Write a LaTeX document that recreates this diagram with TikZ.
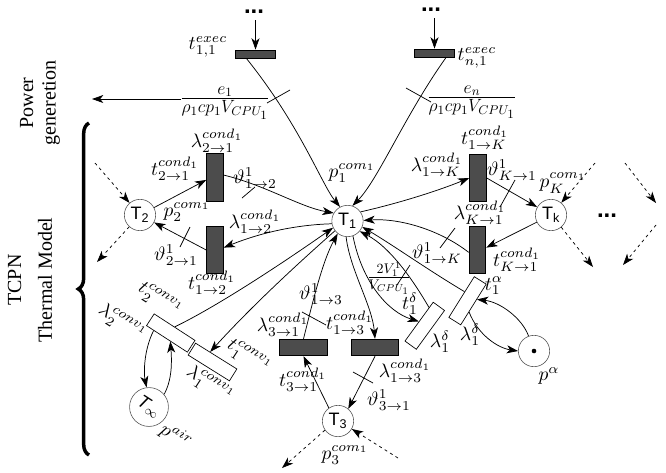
\RequirePackage{fix-cm}
\documentclass[tikz,border=0pt]{standalone}
\usepackage{fontspec}
\usepackage{graphicx}
\newfontfamily\hvfont{Liberation Sans}
\newfontfamily\tmfont{Liberation Serif}
\newcommand{\lbm}[1]{\scalebox{1.46}{$#1$}}
\usetikzlibrary{arrows.meta,decorations.pathreplacing,calc}
\begin{document}
\begin{tikzpicture}[x=0.75pt,y=-0.75pt,
  font=\fontsize{10}{12}\selectfont,
  line width=0.55pt,
  >={Stealth[length=8.5pt,width=6pt,inset=2.4pt]},
  conn/.style={->},
  dasharc/.style={->,dash pattern=on 2.2pt off 2.6pt},
  place/.style={circle,draw=black!65,line width=0.45pt,minimum size=23.5pt,inner sep=0pt,font=\hvfont\fontsize{13.5}{15}\selectfont},
  vtrans/.style={rectangle,draw=black,line width=0.6pt,fill=black!70,minimum width=12.5pt,minimum height=35.5pt,inner sep=0pt},
  htrans/.style={rectangle,draw=black,line width=0.6pt,fill=black!70,minimum width=35.5pt,minimum height=12.5pt,inner sep=0pt},
  etrans/.style={rectangle,draw=black,line width=0.6pt,fill=black!70,minimum width=30.5pt,minimum height=6pt,inner sep=0pt},
  wtrans/.style={rectangle,draw=black,line width=0.5pt,fill=white,minimum width=10.5pt,minimum height=36pt,inner sep=0pt},
  ctrans/.style={rectangle,draw=black,line width=0.5pt,fill=white,minimum width=36.5pt,minimum height=10.5pt,inner sep=0pt},
  lbl/.style={inner sep=0pt},
  dotsty/.style={inner sep=0pt,anchor=base,font=\hvfont\bfseries\fontsize{18}{20}\selectfont},
  tickmark/.style={line width=0.55pt},
  sidetext/.style={rotate=90,align=center,inner sep=0pt},
]
\path[use as bounding box,fill=white] (0,0) rectangle (666,472);

% ---------- side texts and brace
\node[sidetext,font=\tmfont\fontsize{15}{17}\selectfont] (pow) at (40,103) {Power\\generetion};
\node[sidetext,font=\tmfont\fontsize{15}{23}\selectfont] (tcpn) at (30,280) {TCPN\\Thermal Model};
\coordinate (bb) at (89,455);
\coordinate (bt) at (89,123);
\draw[decorate,decoration={brace,amplitude=8pt},line width=2.6pt] (bb) -- (bt);

% ---------- places
\node[place] (T1) at (347.5,221) {T\textsubscript{1}};
\node[place] (T2) at (140,215) {T\textsubscript{2}};
\node[place] (Tk) at (551,215) {T\textsubscript{k}};
\node[place] (T3) at (338,421) {T\textsubscript{3}};
\node[place] (Tinf) at (149,407) {\rotatebox{-33}{\itshape T$_\infty$}};
\node[place] (pa) at (534,351) {};
\fill[black] (pa.center) circle (2.3);

% ---------- transitions
\node[etrans] (t11) at (255.5,54) {};
\node[etrans] (tn1) at (434.5,53) {};
\node[vtrans] (t21) at (215,177.5) {};
\node[vtrans] (t12) at (215,250) {};
\node[vtrans] (t1K) at (478,178) {};
\node[vtrans] (tK1) at (477.5,250) {};
\node[htrans] (t31) at (303.5,347.5) {};
\node[htrans] (t13) at (375,347.5) {};
\node[wtrans,rotate=-36] (t1d) at (424.75,325.75) {};
\node[wtrans,rotate=-32] (t1a) at (467.5,300.75) {};
\node[ctrans,rotate=-33] (t2c) at (170.75,333) {};
\node[ctrans,rotate=-32] (t1c) at (212.5,362) {};

% ---------- dots
\node[dotsty] (d1) at (254,13) {...};
\node[dotsty] (d2) at (431,11) {...};
\node[dotsty] (d3) at (607,217) {...};

% ---------- labels
\node[lbl] (lt11) at (208,47) {\lbm{t^{exec}_{1,1}}};
\node[lbl] (ltn1) at (477,58) {\lbm{t^{exec}_{n,1}}};
\node[lbl,font=\fontsize{19}{21}\selectfont] (f1) at (225,103) {$\frac{e_1}{\rho_1cp_1V_{CPU_1}}$};
\node[lbl,font=\fontsize{19}{21}\selectfont] (f2) at (472,102) {$\frac{e_n}{\rho_1cp_1V_{CPU_1}}$};
\node[lbl] (lp1) at (352,173) {\lbm{p_1^{com_1}}};
\node[lbl] (l21) at (217,141) {\lbm{\lambda^{cond_1}_{2\to1}}};
\node[lbl] (lt21) at (175,169) {\lbm{t^{cond_1}_{2\to1}}};
\node[lbl] (v12) at (255,178) {\lbm{\vartheta^1_{1\to2}}};
\node[lbl] (lp2) at (187,212) {\lbm{p_2^{com_1}}};
\node[lbl] (l12) at (255,222) {\lbm{\lambda^{cond_1}_{1\to2}}};
\node[lbl] (v21) at (176,255) {\lbm{\vartheta^1_{2\to1}}};
\node[lbl] (lt12) at (212,283) {\lbm{t^{cond_1}_{1\to2}}};
\node[lbl] (lt1K) at (485,138) {\lbm{t^{cond_1}_{1\to K}}};
\node[lbl] (l1K) at (437,165) {\lbm{\lambda^{cond_1}_{1\to K}}};
\node[lbl] (vK1) at (512,170) {\lbm{\vartheta^1_{K\to1}}};
\node[lbl] (lpK) at (563,183) {\lbm{p_K^{com_1}}};
\node[lbl] (lK1) at (480,213) {\lbm{\lambda^{cond_1}_{K\to1}}};
\node[lbl] (ltK1) at (517,260) {\lbm{t^{cond_1}_{K\to1}}};
\node[lbl] (v1K) at (437,253) {\lbm{\vartheta^1_{1\to K}}};
\node[lbl] (v13) at (321,294) {\lbm{\vartheta^1_{1\to3}}};
\node[lbl] (l31) at (283,325) {\lbm{\lambda^{cond_1}_{3\to1}}};
\node[lbl] (lt13) at (350,323) {\lbm{t^{cond_1}_{1\to3}}};
\node[lbl] (lt31) at (303,380) {\lbm{t^{cond_1}_{3\to1}}};
\node[lbl] (l13) at (405,371) {\lbm{\lambda^{cond_1}_{1\to3}}};
\node[lbl] (v31) at (389,400) {\lbm{\vartheta^1_{3\to1}}};
\node[lbl] (lp3) at (345,455) {\lbm{p_3^{com_1}}};
\node[lbl,font=\fontsize{15}{17}\selectfont] (f3) at (389,278) {$\frac{2V_1^1}{V_{CPU_1}}$};
\node[lbl] (lt1a) at (494,286) {\lbm{t_1^{\alpha}}};
\node[lbl] (ld1) at (470,335) {\lbm{\lambda_1^{\delta}}};
\node[lbl] (ld2) at (440,342) {\lbm{\lambda_1^{\delta}}};
\node[lbl] (lt1d) at (410,304) {\lbm{t_1^{\delta}}};
\node[lbl] (lpa) at (549,376) {\lbm{p^{\alpha}}};
\node[lbl,rotate=-33] (lt2c) at (160,300) {\lbm{t_2^{conv_1}}};
\node[lbl,rotate=-33] (ll2c) at (122,323) {\lbm{\lambda_2^{conv_1}}};
\node[lbl,rotate=-33] (lt1c) at (249,357) {\lbm{t_1^{conv_1}}};
\node[lbl,rotate=-33] (ll1c) at (210,385) {\lbm{\lambda_1^{conv_1}}};
\node[lbl,rotate=-33] (lpair) at (176,436) {\lbm{p^{air}}};

% ---------- top connectors
\draw[conn] (t11.north |- 0,20) -- (t11.north);
\draw[conn] (tn1.north |- 0,18) -- (tn1.north);
\coordinate (pg1) at (181,99);
\coordinate (pg2) at (92,99);
\draw[conn] (pg1) -- (pg2);
\draw[conn] ($(t11.south west)!0.28!(t11.south east)$) .. controls (300,125) and (322,185) .. (T1.118);
\draw[conn] ($(tn1.south west)!0.78!(tn1.south east)$) .. controls (405,115) and (378,180) .. (T1.72);
\draw[tickmark] (267,103) -- (290,90);
\draw[tickmark] (406,88) -- (431,102);

% ---------- left subnet
\draw[conn] (T2) -- ($(t21.north west)!0.55!(t21.south west)$);
\draw[conn] ($(t21.north east)!0.45!(t21.south east)$) .. controls (265,185) and (300,207) .. (T1.150);
\draw[conn] (T1.190) .. controls (290,225) and (255,235) .. ($(t12.north east)!0.45!(t12.south east)$);
\draw[conn] ($(t12.north west)!0.5!(t12.south west)$) -- (T2);
\draw[tickmark] (242,198) -- (255,187);
\draw[tickmark] (180,247) -- (190,227);
\coordinate (dT2a) at (95,163);
\coordinate (dT2b) at (97,262);
\draw[dasharc] (dT2a) -- (T2);
\draw[dasharc] (T2) -- (dT2b);

% ---------- right subnet
\draw[conn] (T1.35) .. controls (400,203) and (440,190) .. ($(t1K.north west)!0.5!(t1K.south west)$);
\draw[conn] (t1K.east) -- (Tk);
\draw[conn] (Tk) -- ($(tK1.north east)!0.45!(tK1.south east)$);
\draw[conn] ($(tK1.north west)!0.55!(tK1.south west)$) .. controls (440,230) and (400,218) .. (T1.2);
\draw[tickmark] (500,207) -- (515,180);
\draw[tickmark] (440,248) -- (455,228);
\coordinate (dKa) at (595,163);
\coordinate (dKb) at (625,163);
\coordinate (dKc) at (656,203);
\coordinate (dKd) at (593,267);
\coordinate (dKe) at (656,225);
\coordinate (dKf) at (623,265);
\draw[dasharc] (dKa) -- (Tk.50);
\draw[dasharc] (dKb) -- (dKc);
\draw[dasharc] (Tk.-50) -- (dKd);
\draw[dasharc] (dKe) -- (dKf);

% ---------- bottom subnet
\draw[conn] (t31.north) .. controls (312,305) and (322,262) .. (T1.232);
\draw[conn] (T1.265) .. controls (350,270) and (372,305) .. (t13.north);
\draw[conn] (t13.south) -- (T3.50);
\draw[conn] (T3.125) -- (t31.south);
\draw[tickmark] (302,312) -- (326,325);
\draw[tickmark] (353,372) -- (373,383);
\coordinate (dT3a) at (282,468);
\coordinate (dT3b) at (398,458);
\draw[dasharc] (T3.215) -- (dT3a);
\draw[dasharc] (dT3b) -- (T3.-30);

% ---------- delta / alpha
\draw[conn] (T1.290) .. controls (362,282) and (388,312) .. (t1d.west);
\draw[conn] (t1d.113) .. controls (416,285) and (392,248) .. (T1.320);
\draw[tickmark] (397,285) -- (410,265);
\draw[conn] (t1a.140) .. controls (428,270) and (393,245) .. (T1.338);
\draw[conn] (pa.110) .. controls (522,318) and (500,302) .. (t1a.40);
\draw[conn] (t1a.310) .. controls (478,335) and (498,348) .. (pa.180);

% ---------- convection
\draw[conn] (t2c.205) .. controls (143,352) and (144,375) .. (Tinf.97);
\draw[conn] (Tinf.40) .. controls (172,380) and (172,362) .. (t2c.300);
\draw[conn] (t2c.north) .. controls (220,305) and (290,258) .. (T1.205);
\draw[conn] (T1.218) .. controls (295,266) and (250,308) .. (t1c.135);
\end{tikzpicture}
\end{document}
